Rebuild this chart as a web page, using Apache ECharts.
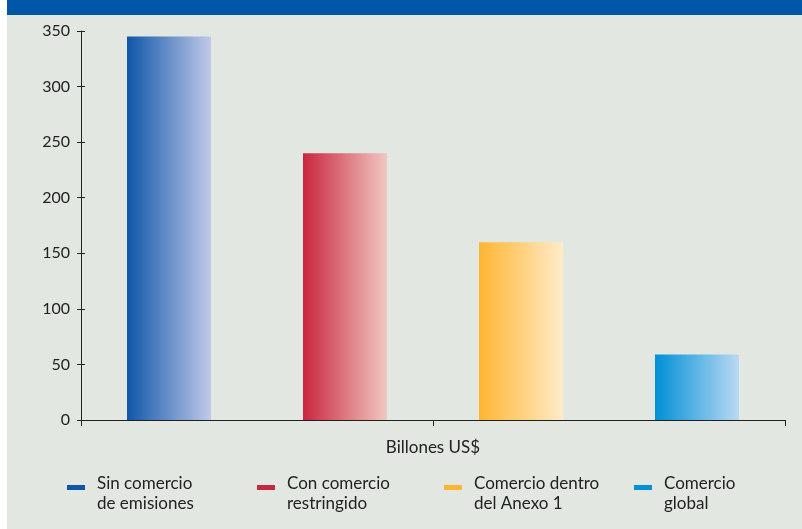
<!DOCTYPE html>
<html>
<head>
<meta charset="utf-8">
<script src="https://cdn.jsdelivr.net/npm/echarts@6/dist/echarts.min.js"></script>
<style>
html,body{margin:0;padding:0;background:#ffffff;}
#c{width:802px;height:529px;}
</style>
</head>
<body>
<div id="c"></div>
<script>
var categories = ['Sin comercio de emisiones', 'Con comercio restringido', 'Comercio dentro del Anexo 1', 'Comercio global'];
var legendLines = [['Sin comercio', 'de emisiones'], ['Con comercio', 'restringido'], ['Comercio dentro', 'del Anexo 1'], ['Comercio', 'global']];
var values = [345, 240, 160, 59];
var yTicks = [0, 50, 100, 150, 200, 250, 300, 350];
var axisTitle = 'Billones US$';
var colorsFrom = ['#0f56a9', '#c9263f', '#ffb531', '#0090d6'];
var colorsTo = ['#c1c9e9', '#f1c8c0', '#ffebc8', '#bad9f3'];

var FONT = 'Lato, "Open Sans", sans-serif';
var chart = echarts.init(document.getElementById('c'), null, {renderer: 'canvas'});

var series = categories.map(function (name, i) {
  var d = categories.map(function (c, j) { return j === i ? values[i] : null; });
  return {
    name: name,
    type: 'bar',
    stack: 'all',
    barWidth: 84,
    data: d,
    itemStyle: {
      color: new echarts.graphic.LinearGradient(0, 0, 1, 0, [
        {offset: 0, color: colorsFrom[i]},
        {offset: 1, color: colorsTo[i]}
      ])
    }
  };
});

var legendX = [67, 257, 444, 634];
var legendGraphics = [];
legendLines.forEach(function (lines, i) {
  legendGraphics.push({
    type: 'rect', left: legendX[i], top: 485,
    shape: {width: 18, height: 5},
    style: {fill: colorsFrom[i]}
  });
  legendGraphics.push({
    type: 'text', left: legendX[i] + 30, top: 474,
    style: {text: lines.join('\n'), font: '17px ' + FONT, fill: '#222', lineHeight: 20}
  });
});

var option = {
  backgroundColor: '#e2e7e1',
  animation: false,
  grid: {left: 81, right: 17, top: 31, bottom: 109, containLabel: false},
  graphic: [
    {type: 'rect', left: 0, top: 0, shape: {width: 7, height: 529}, style: {fill: '#ffffff'}, z: -1},
    {type: 'rect', left: 7, top: 0, shape: {width: 795, height: 15}, style: {fill: '#0057a8'}}
  ].concat(legendGraphics),
  xAxis: {
    type: 'category',
    data: categories,
    name: axisTitle,
    nameLocation: 'middle',
    nameGap: 19,
    nameTextStyle: {fontFamily: FONT, fontSize: 17, color: '#222'},
    axisLine: {lineStyle: {color: '#222', width: 1}},
    axisTick: {show: true, length: 6, lineStyle: {color: '#222'}, alignWithLabel: false},
    axisLabel: {show: false},
    splitLine: {show: false}
  },
  yAxis: [
    {
      type: 'value', min: 0, max: 350, interval: 50,
      axisLine: {show: true, lineStyle: {color: '#222', width: 1}},
      axisTick: {show: true, length: 4, lineStyle: {color: '#222'}},
      axisLabel: {
        margin: 11, fontFamily: FONT, fontSize: 16, color: '#222',
        formatter: function (v) { return yTicks.indexOf(v) >= 0 ? String(v) : ''; }
      },
      splitLine: {show: false}
    },
    {
      type: 'value', min: 0, max: 350, interval: 50, position: 'left',
      axisLine: {show: false},
      axisTick: {show: true, inside: true, length: 4, lineStyle: {color: '#222'}},
      axisLabel: {show: false},
      splitLine: {show: false}
    }
  ],
  series: series
};
chart.setOption(option);
</script>
</body>
</html>
